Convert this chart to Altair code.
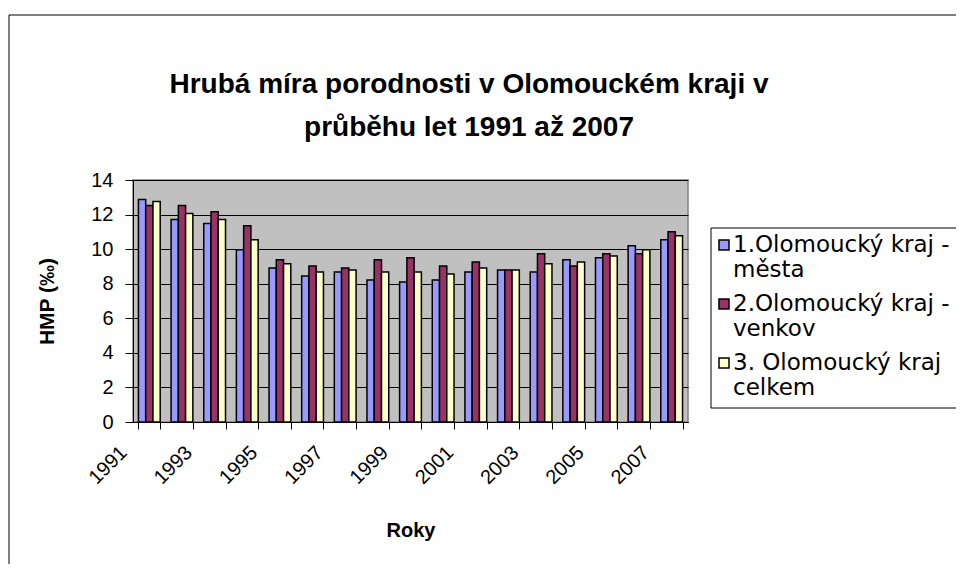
import altair as alt
import pandas as pd

# ---------------- data ----------------
years = [str(y) for y in range(1991, 2008)]
series = ["1.Olomoucký kraj - města", "2.Olomoucký kraj - venkov", "3. Olomoucký kraj celkem"]
legend_line1 = ["1.Olomoucký kraj -", "2.Olomoucký kraj -", "3. Olomoucký kraj"]
legend_line2 = ["města", "venkov", "celkem"]
colors = ["#9999FF", "#993366", "#FFFFCC"]

mesta = [12.87, 11.71, 11.48, 9.96, 8.91, 8.45, 8.68, 8.21, 8.10, 8.21, 8.68, 8.80, 8.68, 9.38, 9.50, 10.19, 10.54]
venkov = [12.52, 12.52, 12.17, 11.36, 9.38, 9.03, 8.91, 9.38, 9.50, 9.03, 9.26, 8.80, 9.73, 9.03, 9.73, 9.73, 11.01]
celkem = [12.76, 12.06, 11.71, 10.54, 9.15, 8.68, 8.80, 8.68, 8.68, 8.56, 8.91, 8.80, 9.15, 9.26, 9.61, 9.96, 10.78]

title_line1 = "Hrubá míra porodnosti v Olomouckém kraji v"
title_line2 = "průběhu let 1991 až 2007"
y_title = "HMP (‰)"
x_title = "Roky"

# ---------------- tables ----------------
rows = []
for s, vals in zip(series, [mesta, venkov, celkem]):
    for yr, v in zip(years, vals):
        rows.append({"rok": yr, "rada": s, "hodnota": v})
df = pd.DataFrame(rows)

leg = pd.DataFrame({"rada": series, "l1": legend_line1, "l2": legend_line2, "i": list(range(len(series)))})
one = pd.DataFrame({"t1": [title_line1], "t2": [title_line2]})

FONT = "Liberation Sans"
LEG_FONT = "DejaVu Sans"
W, H = 555, 242

color_scale = alt.Scale(domain=series, range=colors)

bars = alt.Chart(df).mark_bar(stroke="black", strokeWidth=1.5).encode(
    x=alt.X(
        "rok:N", sort=years,
        scale=alt.Scale(paddingInner=0.333, paddingOuter=0.1667),
        axis=alt.Axis(
            title=x_title, titleFontSize=20, titleFont=FONT, titleFontWeight="bold", titleColor="black",
            titleX=W / 2, titleY=108, titleAlign="center", titleBaseline="middle",
            labelExpr="parseInt(datum.value) % 2 == 1 ? datum.value : ''",
            labelAngle=-45, labelAlign="right", labelBaseline="top",
            labelFontSize=20, labelFont=FONT, labelColor="black",
            labelPadding=13, labelOffset=-33,
            tickBand="extent", tickColor="black", tickSize=7, domainColor="black",
            grid=False, labelOverlap=False,
        ),
    ),
    xOffset=alt.XOffset("rada:N", sort=series, scale=alt.Scale(paddingInner=0, paddingOuter=0)),
    y=alt.Y(
        "hodnota:Q",
        scale=alt.Scale(domain=[0, 14], nice=False),
        axis=alt.Axis(
            title=y_title, titleFontSize=21, titleFont=FONT, titleFontWeight="bold", titleColor="black",
            titleX=-86, titleY=H / 2, titleAngle=270, titleAlign="center", titleBaseline="middle",
            values=list(range(0, 15, 2)), labelFontSize=20, labelFont=FONT, labelColor="black",
            labelPadding=12, tickColor="black", tickSize=8, domainColor="black",
            grid=True, gridColor="black", gridWidth=1,
        ),
    ),
    color=alt.Color("rada:N", scale=color_scale, legend=None),
)

# chart title (two centred lines)
title1 = alt.Chart(one).mark_text(fontSize=28, font=FONT, fontWeight="bold", color="black",
                                  align="center", baseline="middle").encode(
    x=alt.value(336), y=alt.value(-95), text="t1:N"
)
title2 = alt.Chart(one).mark_text(fontSize=28, font=FONT, fontWeight="bold", color="black",
                                  align="center", baseline="middle").encode(
    x=alt.value(336), y=alt.value(-52), text="t2:N"
)

# outer chart frame (left and top edges visible)
frame_left = alt.Chart(one).mark_rule(color="black", strokeWidth=1).encode(
    x=alt.value(-124), y=alt.value(-165), y2=alt.value(420)
)
frame_top = alt.Chart(one).mark_rule(color="black", strokeWidth=1).encode(
    x=alt.value(-124), x2=alt.value(900), y=alt.value(-165)
)

# legend
leg_box = alt.Chart(one).mark_rect(fill="white", stroke="black", strokeWidth=1).encode(
    x=alt.value(578), x2=alt.value(860), y=alt.value(48), y2=alt.value(228)
)
leg_base = alt.Chart(leg).transform_calculate(
    ly1="65 + 59 * datum.i", ly2="90 + 59 * datum.i"
)
leg_sym = leg_base.mark_square(size=100, filled=True, stroke="black", strokeWidth=1.5, opacity=1).encode(
    x=alt.value(591), y=alt.Y("ly1:Q", scale=None),
    color=alt.Color("rada:N", scale=color_scale, legend=None),
)
leg_t1 = leg_base.mark_text(align="left", baseline="middle", fontSize=23, font=LEG_FONT, color="black").encode(
    x=alt.value(600), y=alt.Y("ly1:Q", scale=None), text="l1:N"
)
leg_t2 = leg_base.mark_text(align="left", baseline="middle", fontSize=23, font=LEG_FONT, color="black").encode(
    x=alt.value(600), y=alt.Y("ly2:Q", scale=None), text="l2:N"
)

chart = alt.layer(bars, title1, title2, frame_left, frame_top, leg_box, leg_sym, leg_t1, leg_t2).resolve_scale(
    y="independent"
).properties(
    width=W, height=H,
    autosize=alt.AutoSizeParams(type="none"),
    padding={"left": 125, "top": 172, "right": 268, "bottom": 142},
    background="white",
).configure_view(fill="#C0C0C0", stroke="#808080", strokeWidth=1.5)

chart.save("out.html", embed_options={"renderer": "svg", "actions": False})
